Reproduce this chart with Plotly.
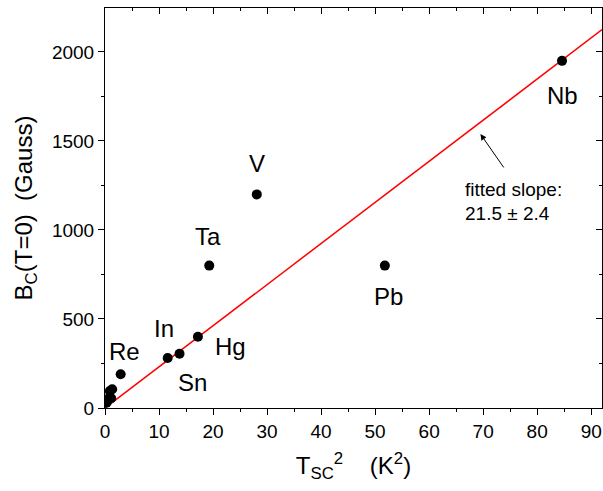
import plotly.graph_objects as go

# Data (Tc^2 in K^2, Bc in Gauss)
tsc2 = [84.6, 28.1, 19.3, 51.8, 17.2, 13.8, 11.6, 2.9, 1.33, 0.9, 0.7, 1.15, 0.3]
bc = [1950, 1200, 800, 800, 400, 305, 281, 190, 105, 95, 55, 55, 30]

fit_slope = 23.1
fit_x = [0, 92]
fit_y = [v * fit_slope for v in fit_x]

label_names = ["Nb", "V", "Ta", "Pb", "Hg", "Sn", "In", "Re"]
label_x = [84.7, 28.2, 19.0, 52.5, 23.2, 16.2, 11.0, 3.7]
label_y = [1753, 1376, 961, 629, 348, 146, 444, 320]

x_range = [0, 92]
y_range = [0, 2247]

font = "Liberation Sans, Arial, sans-serif"

fig = go.Figure()
fig.add_trace(go.Scatter(x=fit_x, y=fit_y, mode="lines",
                         line=dict(color="#ff0000", width=1.5), hoverinfo="skip"))
fig.add_trace(go.Scatter(x=tsc2, y=bc, mode="markers",
                         marker=dict(color="black", size=10)))
# dummy trace for overlay axes
fig.add_trace(go.Scatter(x=[None], y=[None], xaxis="x2", yaxis="y2", showlegend=False))

for n, x, y in zip(label_names, label_x, label_y):
    fig.add_annotation(x=x, y=y, text=n, showarrow=False,
                       font=dict(size=24, color="black", family=font))

fig.add_annotation(x=66.2, y=1225, text="fitted slope:", showarrow=False, xanchor="left",
                   font=dict(size=19, color="black", family=font))
fig.add_annotation(x=66.2, y=1090, text="21.5 ± 2.4", showarrow=False, xanchor="left",
                   font=dict(size=19, color="black", family=font))
fig.add_annotation(x=69.5, y=1539, ax=74.0, ay=1343, axref="x", ayref="y",
                   text="", showarrow=True, arrowhead=2, arrowsize=1.2, arrowwidth=1,
                   arrowcolor="black")

common = dict(showgrid=False, zeroline=False, linecolor="black", linewidth=1,
              ticklen=6, tickwidth=1, tickcolor="black")

fig.update_layout(
    width=603, height=491,
    margin=dict(l=105, r=1, t=8, b=83),
    plot_bgcolor="white", paper_bgcolor="white",
    showlegend=False,
    font=dict(family=font, color="black"),
    xaxis=dict(range=x_range, tick0=0, dtick=10, ticks="outside", showline=True,
               tickfont=dict(size=19), minor=dict(dtick=5, ticks="outside", ticklen=3, tickcolor="black"),
               title=dict(text="T<sub>SC</sub><sup>2</sup>    (K<sup>2</sup>)", font=dict(size=24), standoff=16),
               **common),
    yaxis=dict(range=y_range, tick0=0, dtick=500, ticks="outside", showline=True,
               tickfont=dict(size=19), minor=dict(dtick=250, ticks="outside", ticklen=3, tickcolor="black"),
               title=dict(text="B<sub>C</sub>(T=0)  (Gauss)", font=dict(size=24), standoff=12),
               **common),
    xaxis2=dict(range=x_range, overlaying="x", side="top", ticks="inside", showline=True,
                showticklabels=False, dtick=10, tick0=0,
                minor=dict(dtick=5, ticks="inside", ticklen=3, tickcolor="black"), **common),
    yaxis2=dict(range=y_range, overlaying="y", side="right", ticks="inside", showline=True,
                showticklabels=False, dtick=500, tick0=0,
                minor=dict(dtick=250, ticks="inside", ticklen=3, tickcolor="black"), **common),
)

fig.write_html("out.html")
